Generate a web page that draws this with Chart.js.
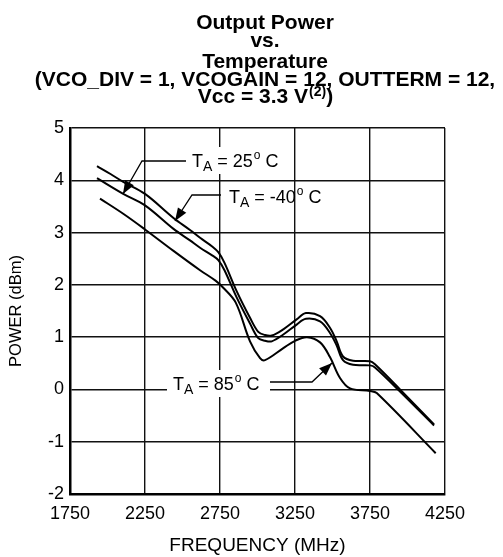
<!DOCTYPE html>
<html>
<head>
<meta charset="utf-8">
<script src="https://cdn.jsdelivr.net/npm/chart.js@4/dist/chart.umd.min.js"></script>
<style>
  html, body { margin: 0; padding: 0; background: #fff; }
  #wrap { width: 503px; height: 557px; }
</style>
</head>
<body>
<div id="wrap"><canvas id="powerChart" width="503" height="557"></canvas></div>
<script>
// data
const freqM40 = [1930, 2020, 2105, 2250, 2440, 2550, 2617, 2700, 2740, 2780, 2861, 2950, 3005, 3050, 3095, 3172, 3261, 3323, 3417, 3483, 3528, 3570, 3637, 3750, 3783, 3950, 4177];
const powM40  = [4.27, 4.12, 3.97, 3.74, 3.28, 3.05, 2.90, 2.73, 2.62, 2.42, 1.88, 1.37, 1.10, 1.04, 1.03, 1.15, 1.34, 1.46, 1.40, 1.18, 0.92, 0.63, 0.55, 0.54, 0.48, 0.00, -0.67];

const freq25 = [1930, 2105, 2250, 2440, 2550, 2617, 2700, 2740, 2780, 2861, 2950, 3005, 3050, 3095, 3172, 3261, 3323, 3417, 3483, 3528, 3570, 3637, 3750, 3783, 3950, 4177];
const pow25  = [4.04, 3.74, 3.52, 3.07, 2.85, 2.71, 2.56, 2.47, 2.28, 1.76, 1.26, 0.98, 0.93, 0.92, 1.05, 1.24, 1.35, 1.30, 1.08, 0.84, 0.56, 0.47, 0.46, 0.42, -0.04, -0.69];

const freq85 = [1950, 2105, 2250, 2440, 2617, 2720, 2770, 2855, 2950, 3017, 3050, 3172, 3250, 3330, 3417, 3483, 3550, 3617, 3750, 3795, 4188];
const pow85  = [3.65, 3.36, 3.06, 2.65, 2.28, 2.08, 1.95, 1.66, 0.92, 0.60, 0.56, 0.79, 0.93, 1.00, 0.90, 0.62, 0.22, 0.02, -0.03, -0.07, -1.22];

const seriesNames = ['TA = -40°C', 'TA = 25°C', 'TA = 85°C'];
const xTicks = [1750, 2250, 2750, 3250, 3750, 4250];
const yTicks = [-2, -1, 0, 1, 2, 3, 4, 5];

const FONT = '"Liberation Sans", Arial, Helvetica, sans-serif';

function toPoints(xs, ys) {
  return xs.map((x, i) => ({ x: x, y: ys[i] }));
}

function curve(label, xs, ys) {
  return {
    label: label,
    data: toPoints(xs, ys),
    showLine: true,
    borderColor: '#000',
    borderWidth: 2,
    pointRadius: 0,
    fill: false,
    tension: 0.35
  };
}

// title with the (2) superscript
const titlePlugin = {
  id: 'chartTitle',
  afterDraw(chart) {
    const ctx = chart.ctx;
    const cx = 265;
    ctx.save();
    ctx.fillStyle = '#000';
    ctx.textBaseline = 'alphabetic';
    ctx.textAlign = 'center';
    ctx.font = 'bold 21px ' + FONT;
    ctx.fillText('Output Power', cx, 29);
    ctx.fillText('vs.', cx, 47);
    ctx.fillText('Temperature', cx, 68);
    ctx.fillText('(VCO_DIV = 1, VCOGAIN = 12, OUTTERM = 12,', cx, 86);

    // last line: Vcc = 3.3 V(2))
    ctx.textAlign = 'left';
    const a = 'Vcc = 3.3 V';
    const sup = '(2)';
    const b = ')';
    ctx.font = 'bold 21px ' + FONT;
    const wa = ctx.measureText(a).width;
    const wb = ctx.measureText(b).width;
    ctx.font = 'bold 14px ' + FONT;
    const ws = ctx.measureText(sup).width;
    let x = cx - (wa + ws + wb) / 2;
    ctx.font = 'bold 21px ' + FONT;
    ctx.fillText(a, x, 103);
    x += wa;
    ctx.font = 'bold 14px ' + FONT;
    ctx.fillText(sup, x + 1, 96);
    x += ws + 1;
    ctx.font = 'bold 21px ' + FONT;
    ctx.fillText(b, x, 103);
    ctx.restore();
  }
};

// "TA = xx° C" labels with leader arrows
function drawTA(ctx, x, y, temp) {
  ctx.font = '18px ' + FONT;
  ctx.fillText('T', x, y);
  x += ctx.measureText('T').width;
  ctx.font = '14px ' + FONT;
  ctx.fillText('A', x, y + 4);
  x += ctx.measureText('A').width;
  ctx.font = '18px ' + FONT;
  const mid = ' = ' + temp;
  ctx.fillText(mid, x, y);
  x += ctx.measureText(mid).width;
  ctx.font = '12px ' + FONT;
  ctx.fillText('o', x + 1, y - 8);
  x += ctx.measureText('o').width + 1;
  ctx.font = '18px ' + FONT;
  ctx.fillText(' C', x, y);
}

function drawLeader(ctx, pts) {
  ctx.beginPath();
  ctx.moveTo(pts[0][0], pts[0][1]);
  for (let i = 1; i < pts.length; i++) ctx.lineTo(pts[i][0], pts[i][1]);
  ctx.lineWidth = 1.3;
  ctx.strokeStyle = '#000';
  ctx.stroke();
  // arrow head at the last point
  const p = pts[pts.length - 1];
  const q = pts[pts.length - 2];
  const ang = Math.atan2(p[1] - q[1], p[0] - q[0]);
  const len = 13, half = 5;
  ctx.beginPath();
  ctx.moveTo(p[0], p[1]);
  ctx.lineTo(p[0] - len * Math.cos(ang) + half * Math.sin(ang), p[1] - len * Math.sin(ang) - half * Math.cos(ang));
  ctx.lineTo(p[0] - len * Math.cos(ang) - half * Math.sin(ang), p[1] - len * Math.sin(ang) + half * Math.cos(ang));
  ctx.closePath();
  ctx.fillStyle = '#000';
  ctx.fill();
}

const labelPlugin = {
  id: 'taLabels',
  afterDatasetsDraw(chart) {
    const ctx = chart.ctx;
    ctx.save();
    ctx.textBaseline = 'alphabetic';
    ctx.textAlign = 'left';

    // 25 C
    ctx.fillStyle = '#fff';
    ctx.fillRect(187, 147, 102, 27);
    ctx.fillStyle = '#000';
    drawTA(ctx, 192, 167, '25');
    drawLeader(ctx, [[186, 161], [142, 161], [123, 194]]);

    // -40 C
    ctx.fillStyle = '#000';
    drawTA(ctx, 229, 203, '-40');
    drawLeader(ctx, [[221, 195], [192, 195], [175, 221]]);

    // 85 C
    ctx.fillStyle = '#fff';
    ctx.fillRect(167, 370, 103, 27);
    ctx.fillStyle = '#000';
    drawTA(ctx, 173, 390, '85');
    drawLeader(ctx, [[270, 382], [312, 382], [332, 363]]);
    ctx.restore();
  }
};

const ctx = document.getElementById('powerChart').getContext('2d');

const powerChart = new Chart(ctx, {
  type: 'scatter',
  data: {
    datasets: [
      curve(seriesNames[0], freqM40, powM40),
      curve(seriesNames[1], freq25, pow25),
      curve(seriesNames[2], freq85, pow85)
    ]
  },
  options: {
    responsive: false,
    animation: false,
    layout: { padding: { top: 128, right: 58, left: 0, bottom: 0 } },
    plugins: {
      legend: { display: false },
      title: { display: false },
      tooltip: { enabled: false }
    },
    scales: {
      x: {
        type: 'linear',
        min: 1750,
        max: 4250,
        afterBuildTicks(scale) { scale.ticks = xTicks.map(v => ({ value: v })); },
        afterFit(scale) { scale.height = 63; },
        ticks: {
          color: '#000',
          font: { family: FONT, size: 18 },
          padding: 9,
          maxRotation: 0,
          callback: v => String(v)
        },
        grid: { color: '#111', lineWidth: 1.4, drawTicks: false },
        border: { color: '#000', width: 2.5 },
        title: {
          display: true,
          text: 'FREQUENCY (MHz)',
          color: '#000',
          font: { family: FONT, size: 19 },
          padding: 0
        }
      },
      y: {
        type: 'linear',
        min: -2,
        max: 5,
        afterBuildTicks(scale) { scale.ticks = yTicks.map(v => ({ value: v })); },
        afterFit(scale) { scale.width = 70; },
        ticks: {
          color: '#000',
          font: { family: FONT, size: 18 },
          padding: 6,
          callback: v => String(v)
        },
        grid: { color: '#111', lineWidth: 1.4, drawTicks: false },
        border: { color: '#000', width: 2.5 },
        title: {
          display: true,
          text: 'POWER (dBm)',
          color: '#000',
          font: { family: FONT, size: 16.5 },
          padding: 7
        }
      }
    }
  },
  plugins: [labelPlugin, titlePlugin]
});
</script>
</body>
</html>
